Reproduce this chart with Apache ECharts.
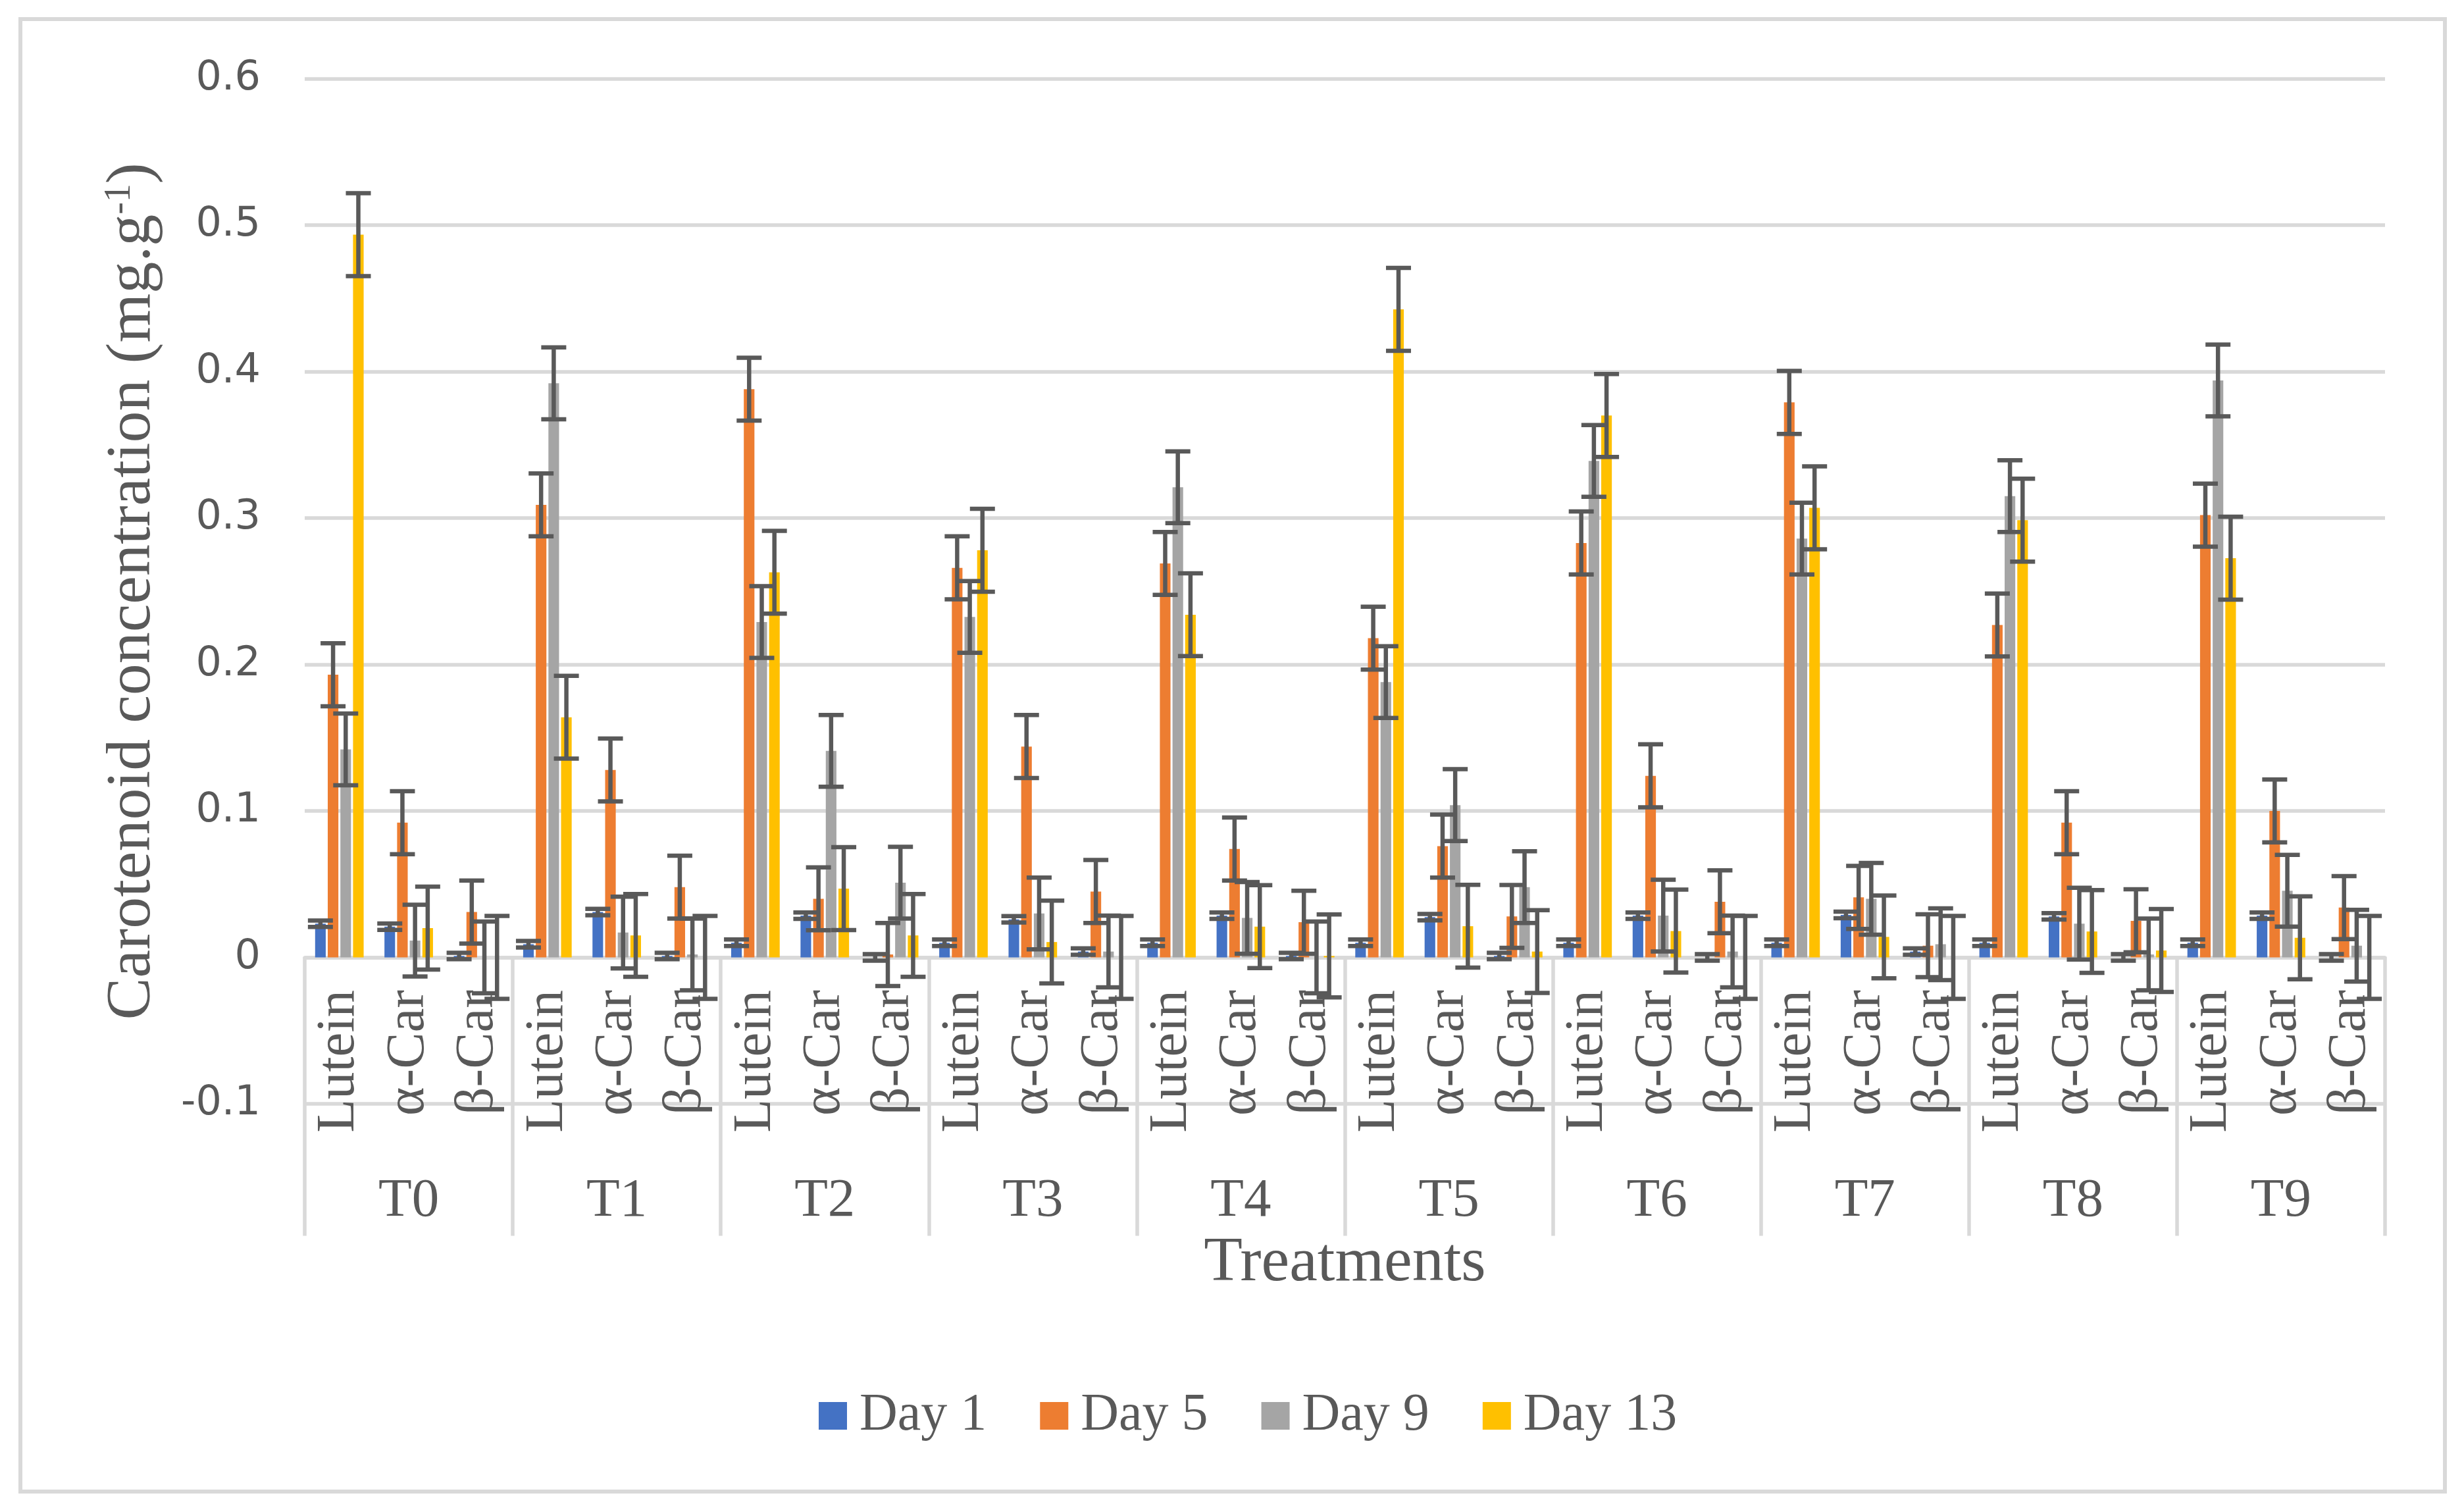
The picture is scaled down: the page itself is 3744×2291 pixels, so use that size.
<!DOCTYPE html>
<html>
<head>
<meta charset="utf-8">
<script src="https://cdn.jsdelivr.net/npm/echarts@6/dist/echarts.min.js"></script>
<style>
html,body{margin:0;padding:0;background:#fff;}
#chart{width:3744px;height:2291px;}
</style>
</head>
<body>
<div id="chart"></div>
<script>
// ---- data ----
const treatments = ['T0','T1','T2','T3','T4','T5','T6','T7','T8','T9'];
const compounds = ['Lutein','α-Car','β-Car'];
const seriesNames = ['Day 1','Day 5','Day 9','Day 13'];
// order: T0 Lutein, T0 α-Car, T0 β-Car, T1 Lutein, ...
const day1  = [0.023,0.021,0.001, 0.009,0.031,0.001, 0.010,0.0285,0.000, 0.010,0.026,0.004, 0.010,0.0285,0.001,
               0.010,0.0275,0.001, 0.010,0.0285,0.000, 0.010,0.029,0.004, 0.010,0.028,0.000, 0.010,0.0285,0.000];
const day5  = [0.193,0.092,0.031, 0.309,0.128,0.048, 0.388,0.040,0.002, 0.266,0.144,0.045, 0.269,0.074,0.024,
               0.218,0.076,0.028, 0.283,0.124,0.038, 0.379,0.041,0.008, 0.227,0.092,0.025, 0.302,0.100,0.034];
const day9  = [0.142,0.0115,0.000, 0.392,0.017,0.002, 0.229,0.141,0.051, 0.2325,0.030,0.004, 0.321,0.027,0.000,
               0.188,0.104,0.048, 0.339,0.0285,0.004, 0.286,0.040,0.009, 0.315,0.023,0.002, 0.394,0.0455,0.008];
const day13 = [0.4935,0.020,0.000, 0.164,0.015,0.000, 0.263,0.047,0.015, 0.278,0.0105,0.000, 0.234,0.021,0.001,
               0.4425,0.0213,0.004, 0.370,0.018,0.000, 0.307,0.014,0.000, 0.2986,0.0177,0.0047, 0.2726,0.0134,0.000];
const errorBars = [0.0022, 0.0215, 0.0245, 0.0283]; // standard error per series
const yMin = -0.1, yMax = 0.6, yStep = 0.1;

// ---- build ----
const values = [day1, day5, day9, day13];
const colors = ['#4472C4','#ED7D31','#A5A5A5','#FFC000'];
const xLabels = [];
treatments.forEach(() => compounds.forEach(c => xLabels.push(c)));
const CAT_GAP = 0.30, BAR_GAP = 0.19, N = 4;
const TEXT = '#595959', LINE = '#d9d9d9';
const serif = 'Liberation Serif';

const errData = [];
values.forEach((arr, s) => arr.forEach((v, i) => errData.push([i, v, errorBars[s], s])));

function renderErr(params, api) {
  const idx = api.value(0), val = api.value(1), err = api.value(2), s = api.value(3);
  const band = api.size([1, 0])[0];
  const avail = band * (1 - CAT_GAP);
  const bw = avail / (N + (N - 1) * BAR_GAP);
  const c = api.coord([idx, val]);
  const x = c[0] - avail / 2 + s * bw * (1 + BAR_GAP) + bw / 2;
  const yHi = api.coord([idx, val + err])[1];
  const yLo = api.coord([idx, val - err])[1];
  const half = 19;
  const st = {stroke: '#595959', lineWidth: 6.5};
  return {type: 'group', children: [
    {type: 'line', shape: {x1: x, y1: yHi, x2: x, y2: yLo}, style: st},
    {type: 'line', shape: {x1: x - half, y1: yHi, x2: x + half, y2: yHi}, style: st},
    {type: 'line', shape: {x1: x - half, y1: yLo, x2: x + half, y2: yLo}, style: st}
  ]};
}

const gridBox = {left: 463, right: 120, top: 119.6, bottom: 614};
const chart = echarts.init(document.getElementById('chart'));
const option = {
  backgroundColor: '#fff',
  animation: false,
  graphic: [{
    type: 'rect', shape: {x: 31, y: 29, width: 3684, height: 2237},
    style: {fill: 'none', stroke: LINE, lineWidth: 6}, silent: true, z: -1
  }],
  legend: {
    data: seriesNames, left: 1239, top: 2106, icon: 'rect',
    itemWidth: 43, itemHeight: 42, itemGap: 81,
    textStyle: {fontFamily: serif, fontSize: 80, color: TEXT, padding: [0, 0, 0, 14]}
  },
  grid: [Object.assign({}, gridBox), Object.assign({}, gridBox)],
  xAxis: [{
    type: 'category', data: xLabels, gridIndex: 0, position: 'bottom',
    axisLine: {show: true, onZero: true, lineStyle: {color: LINE, width: 5.5}},
    axisTick: {show: true, length: 423, interval: (i) => i % 3 === 0, lineStyle: {color: LINE, width: 5.5}},
    axisLabel: {interval: 0, rotate: 90, margin: -173, fontFamily: serif, fontSize: 83, color: TEXT}
  }, {
    type: 'category', data: treatments, gridIndex: 1, position: 'bottom',
    axisLine: {show: false}, axisTick: {show: false}, splitLine: {show: false},
    axisLabel: {interval: 0, margin: 107, fontFamily: serif, fontSize: 83, color: TEXT},
    name: 'Treatments', nameLocation: 'middle', nameGap: 191,
    nameTextStyle: {fontFamily: serif, fontSize: 96, color: TEXT}
  }],
  yAxis: [{
    type: 'value', gridIndex: 0, min: yMin, max: yMax, interval: yStep,
    axisLine: {show: false}, axisTick: {show: false},
    splitLine: {show: true, lineStyle: {color: LINE, width: 5.5}},
    axisLabel: {margin: 67, fontFamily: 'DejaVu Sans', fontSize: 62, color: TEXT,
      formatter: v => String(+v.toFixed(1))},
    name: 'Carotenoid concentration (mg.g{sup|-1})', nameLocation: 'middle', nameRotate: 90, nameGap: 213,
    nameTextStyle: {fontFamily: serif, fontSize: 96, color: TEXT,
      rich: {sup: {fontFamily: serif, fontSize: 56, color: TEXT, verticalAlign: 'top', padding: [0, 0, 34, 0]}}}
  }, {
    type: 'value', gridIndex: 1, min: 0, max: 1, show: false
  }],
  series: values.map((arr, s) => ({
    name: seriesNames[s], type: 'bar', data: arr, xAxisIndex: 0, yAxisIndex: 0,
    itemStyle: {color: colors[s]}, barGap: (BAR_GAP * 100) + '%', barCategoryGap: (CAT_GAP * 100) + '%'
  })).concat([{
    name: 'error', type: 'custom', data: errData, xAxisIndex: 0, yAxisIndex: 0,
    encode: {x: 0, y: 1}, renderItem: renderErr, silent: true, z: 3
  }])
};
chart.setOption(option);
</script>
</body>
</html>
